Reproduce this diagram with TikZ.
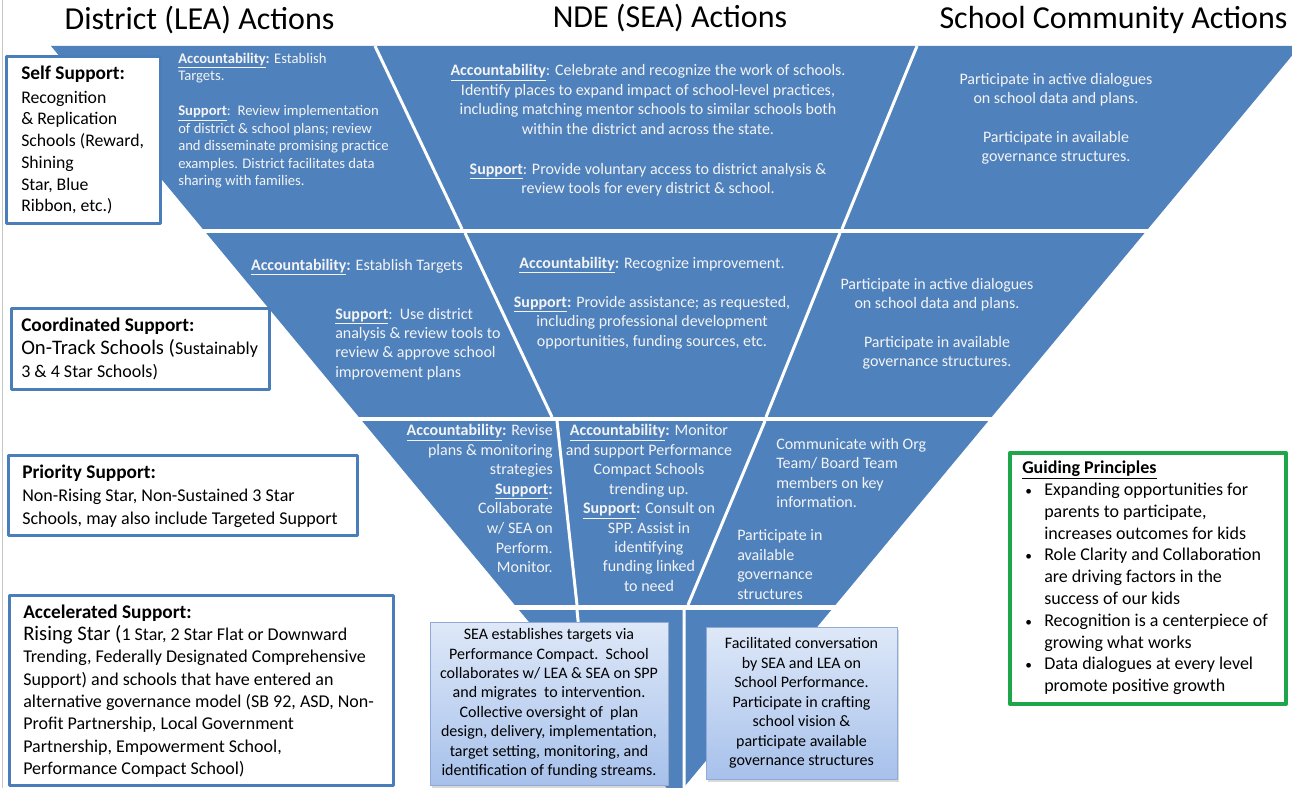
\documentclass[tikz,border=0pt]{standalone}
\usepackage{fontspec}
\setmainfont{Carlito}
\usetikzlibrary{positioning,shadows}
\definecolor{bandblue}{HTML}{4F81BD}
\definecolor{boxblue}{HTML}{4A7EBB}
\definecolor{gpgreen}{HTML}{1FA64B}
\definecolor{paleblue}{HTML}{DEE8F8}
\definecolor{midblue}{HTML}{A7C1EB}
\definecolor{paperline}{HTML}{8DAAD8}
\definecolor{softwhite}{HTML}{F4F4F4}
\newcommand{\keyw}[1]{\underline{\textbf{#1}}}
\newcommand{\gpitem}{\hspace*{2.25pt}\makebox[14.25pt][l]{\fontsize{10}{10}\selectfont\textbullet}}
\newcommand{\gpmore}{\hspace*{16.5pt}}

\begin{document}
\begin{tikzpicture}[line cap=round,line join=round,x=0.75pt,y=-0.75pt,
  header/.style={inner sep=0pt,font=\fontsize{24}{28}\selectfont},
  bandtext/.style={inner sep=0pt,text=softwhite,font=\fontsize{12}{14.6}\selectfont},
  divider/.style={white,line width=2.25pt,line cap=butt},
  tierbox/.style={draw=boxblue,line width=2.25pt,fill=white,inner sep=0pt},
  tiertext/.style={inner sep=0pt,align=left,anchor=west,font=\fontsize{13.5}{16.7}\selectfont},
  paperbox/.style={draw=paperline,line width=0.6pt,top color=paleblue,bottom color=midblue,inner sep=0pt,
    drop shadow={shadow xshift=1.5pt,shadow yshift=-2pt,opacity=0.3}},
  papertext/.style={inner sep=0pt,align=center,font=\fontsize{12}{14.6}\selectfont}]
\useasboundingbox (0,0) rectangle (1292,788);
\begin{scope}
\clip (0,0) rectangle (1292,788);
\coordinate (tl) at (51,46);
\coordinate (tr) at (1300,46);
\coordinate (apex) at (675,798);
\fill [bandblue] (tl) -- (tr) -- (apex) -- cycle;
\fill [white] (0,229) rectangle (1292,233);
\fill [white] (0,417) rectangle (1292,421);
\fill [white] (0,605) rectangle (1292,610);
\draw [divider] (375,46) -- (462,229) (465,233) -- (552,417) (557,421) -- (577,605) (577,610) -- (580,640);
\draw [divider] (917,46) -- (842,229) (840,233) -- (766,417) (765,421) -- (688,605) (684,610) -- (684,798);
\end{scope}
\draw [gray!45,line width=0.75pt] (2,0) -- (2,788);

\node [header] (lea) at (199.5,20) {District (LEA) Actions};
\node [header] (sea) at (670,18) {NDE (SEA) Actions};
\node [header] (community) at (1113.5,20) {School Community Actions};

% top band
\node [bandtext,anchor=west,align=left,font=\fontsize{11}{13.1}\selectfont] (leaone) at (178,120.5)
  {\keyw{Accountability}\textbf{:} Establish\\ Targets.\\[13.1pt]
   \keyw{Support}:\ \ Review implementation\\ of district \& school plans; review\\
   and disseminate promising practice\\ examples. District facilitates data\\ sharing with families.};
\node [bandtext,align=center] (seaone) at (648,130.5)
  {\keyw{Accountability}: Celebrate and recognize the work of schools.\\
   Identify places to expand impact of school-level practices,\\
   including matching mentor schools to similar schools both\\
   within the district and across the state.\\[15.4pt]
   \keyw{Support}: Provide voluntary access to district analysis \&\\
   review tools for every district \& school.};
\node [bandtext,align=center,font=\fontsize{12}{14.3}\selectfont] (commone) at (1056,118.5)
  {Participate in active dialogues\\ on school data and plans.\\[15pt]
   Participate in available\\ governance structures.};

% middle band
\node [bandtext] (leatwoacc) at (357,267) {\keyw{Accountability}\textbf{:} Establish Targets};
\node [bandtext,anchor=west,align=left,font=\fontsize{12}{14.5}\selectfont] (leatwosup) at (335,344)
  {\keyw{Support}:\ \ Use district\\ analysis \& review tools to\\ review \& approve school\\ improvement plans};
\node [bandtext,align=center] (seatwo) at (652,303)
  {\keyw{Accountability}\textbf{:} Recognize improvement.\\[14.6pt]
   \keyw{Support}\textbf{:} Provide assistance; as requested,\\
   including professional development\\ opportunities, funding sources, etc.};
\node [bandtext,align=center,font=\fontsize{12}{14.3}\selectfont] (commtwo) at (937,323.5)
  {Participate in active dialogues\\ on school data and plans.\\[15pt]
   Participate in available\\ governance structures.};

% lower band
\node [bandtext,anchor=east,align=right,font=\fontsize{12}{14.7}\selectfont] (leathree) at (553,498.5)
  {\keyw{Accountability}\textbf{:} Revise\\ plans \& monitoring\\ strategies\\ \keyw{Support}\textbf{:}\\
   Collaborate\\ w/ SEA on\\ Perform.\\ Monitor.};
\node [bandtext,align=center] (seathree) at (649,508)
  {\keyw{Accountability}\textbf{:} Monitor\\ and support Performance\\ Compact Schools\\ trending up.\\
   \keyw{Support}\textbf{:} Consult on\\ SPP. Assist in\\ identifying\\ funding linked\\ to need};
\node [bandtext,anchor=west,align=left] (commthreea) at (776,473)
  {Communicate with Org\\ Team/ Board Team\\ members on key\\ information.};
\node [bandtext,anchor=west,align=left] (commthreeb) at (737,564.5)
  {Participate in\\ available\\ governance\\ structures};

% stem boxes
\node [paperbox,minimum width=178.5pt,minimum height=122.25pt] (seafour) at (549,703.5) {};
\node [papertext] (seafourtext) at (seafour.center)
  {SEA establishes targets via\\ Performance Compact.\ \ School\\ collaborates w/ LEA \& SEA on SPP\\
   and migrates\ \ to intervention.\\ Collective oversight of\ \ plan\\ design, delivery, implementation,\\
   target setting, monitoring, and\\ identification of funding streams.};
\node [paperbox,minimum width=143.25pt,minimum height=114pt] (commfour) at (801.5,703) {};
\node [papertext] (commfourtext) at (commfour.center)
  {Facilitated conversation\\ by SEA and LEA on\\ School Performance.\\ Participate in crafting\\
   school vision \&\\ participate available\\ governance structures};

% support tiers
\node [tierbox,minimum width=115.5pt,minimum height=125.25pt] (self) at (83.5,140) {};
\node [tiertext,font=\fontsize{13.3}{16.3}\selectfont] (selftext) at (21,140)
  {{\fontsize{14.5}{16}\selectfont\textbf{Self Support:}}\\[1.5pt] Recognition\\ \& Replication\\ Schools (Reward,\\ Shining\\ Star, Blue\\ Ribbon, etc.)};
\node [tierbox,minimum width=193.5pt,minimum height=60.75pt] (coord) at (140.5,349) {};
\node [tiertext,font=\fontsize{13.5}{17}\selectfont] (coordtext) at (21,349)
  {{\fontsize{14.5}{16}\selectfont\textbf{Coordinated Support:}}\\ {\fontsize{15.5}{17}\selectfont On-Track Schools (}Sustainably\\ 3 \& 4 Star Schools)};
\node [tierbox,minimum width=261.75pt,minimum height=60pt] (priority) at (183,495.5) {};
\node [tiertext,font=\fontsize{13.5}{17.25}\selectfont] (prioritytext) at (22,496)
  {{\fontsize{14.5}{16}\selectfont\textbf{Priority Support:}}\\ Non-Rising Star, Non-Sustained 3 Star\\ Schools, may also include Targeted Support};
\node [tierbox,minimum width=288pt,minimum height=142.5pt] (accel) at (201.5,690.5) {};
\node [tiertext] (acceltext) at (23,691)
  {{\fontsize{14.5}{16}\selectfont\textbf{Accelerated Support:}}\\
   {\fontsize{15.5}{17}\selectfont Rising Star (}1 Star, 2 Star Flat or Downward\\
   Trending, Federally Designated Comprehensive\\ Support) and schools that have entered an\\
   alternative governance model (SB 92, ASD, Non-\\ Profit Partnership, Local Government\\
   Partnership, Empowerment School,\\ Performance Compact School)};

% guiding principles
\node [draw=gpgreen,line width=3pt,fill=white,minimum width=207pt,minimum height=188.25pt] (guide) at (1148,578.5) {};
\node [tiertext,font=\fontsize{13.5}{16.35}\selectfont] (guidetext) at (1022,578)
  {\keyw{Guiding Principles}\\
   \gpitem Expanding opportunities for\\ \gpmore parents to participate,\\ \gpmore increases outcomes for kids\\
   \gpitem Role Clarity and Collaboration\\ \gpmore are driving factors in the\\ \gpmore success of our kids\\
   \gpitem Recognition is a centerpiece of\\ \gpmore growing what works\\
   \gpitem Data dialogues at every level\\ \gpmore promote positive growth};
\end{tikzpicture}
\end{document}
